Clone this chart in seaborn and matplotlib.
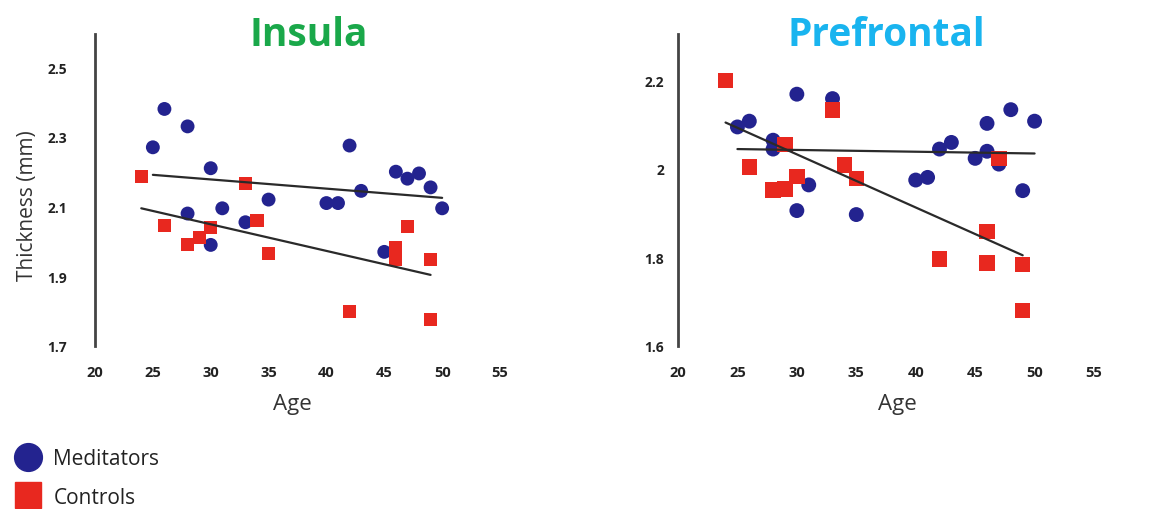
import numpy as np
import pandas as pd
import matplotlib
matplotlib.use("Agg")
import matplotlib.pyplot as plt
import seaborn as sns
from matplotlib.lines import Line2D

# ---------------- data ----------------
ins_med_age = [25, 26, 28, 30, 28, 30, 31, 33, 35, 40, 41, 42, 43, 45, 46, 47, 48, 49, 50]
ins_med_th = [2.27, 2.38, 2.33, 2.21, 2.08, 1.99, 2.095, 2.055, 2.12, 2.11, 2.11, 2.275,
              2.145, 1.97, 2.20, 2.18, 2.195, 2.155, 2.095]
ins_ctl_age = [24, 26, 28, 29, 30, 33, 34, 35, 42, 46, 46, 47, 49, 49]
ins_ctl_th = [2.187, 2.045, 1.99, 2.01, 2.04, 2.165, 2.06, 1.965, 1.80, 1.983, 1.947,
              2.042, 1.947, 1.775]

pre_med_age = [25, 26, 28, 28, 30, 30, 31, 33, 35, 40, 41, 42, 43, 45, 46, 46, 47, 48, 49, 50]
pre_med_th = [2.095, 2.108, 2.065, 2.045, 2.169, 1.906, 1.964, 2.159, 1.897, 1.975, 1.981,
              2.045, 2.06, 2.024, 2.103, 2.04, 2.011, 2.134, 1.951, 2.108]
pre_ctl_age = [24, 26, 28, 29, 29, 30, 33, 34, 35, 42, 46, 46, 47, 49, 49]
pre_ctl_th = [2.2, 2.004, 1.953, 1.955, 2.055, 1.983, 2.133, 2.009, 1.979, 1.796, 1.859,
              1.787, 2.024, 1.784, 1.68]

# fitted trend lines (end points)
ins_med_fit_age = [25, 50]
ins_med_fit_th = [2.191, 2.125]
ins_ctl_fit_age = [24, 49]
ins_ctl_fit_th = [2.095, 1.904]
pre_med_fit_age = [25, 50]
pre_med_fit_th = [2.045, 2.035]
pre_ctl_fit_age = [24, 49]
pre_ctl_fit_th = [2.105, 1.805]

x_ticks = [20, 25, 30, 35, 40, 45, 50, 55]
ins_y_ticks = [1.7, 1.9, 2.1, 2.3, 2.5]
ins_y_labels = ["1.7", "1.9", "2.1", "2.3", "2.5"]
pre_y_ticks = [1.6, 1.8, 2.0, 2.2]
pre_y_labels = ["1.6", "1.8", "2", "2.2"]

groups = ["Meditators", "Controls"]
titles = ["Insula", "Prefrontal"]

# ---------------- style ----------------
sns.set_theme(style="white")
plt.rcParams["font.family"] = ["Open Sans", "DejaVu Sans"]

MED_COLOR = "#23238f"
CTL_COLOR = "#e8281f"
LINE_COLOR = "#2a2a2a"
TEXT_COLOR = "#333333"

W, H = 1152, 510
fig = plt.figure(figsize=(W / 100, H / 100), dpi=100)

def px_axes(x0, x1, ytop, ybot):
    return fig.add_axes([x0 / W, 1 - ybot / H, (x1 - x0) / W, (ybot - ytop) / H])

ax1 = px_axes(95, 500, 35, 347)
ax2 = px_axes(678, 1094, 35, 347)

def panel(ax, med_age, med_th, ctl_age, ctl_th, med_fit, ctl_fit, s_med, s_ctl):
    dm = pd.DataFrame({"Age": med_age, "Thickness": med_th})
    dc = pd.DataFrame({"Age": ctl_age, "Thickness": ctl_th})
    sns.scatterplot(data=dm, x="Age", y="Thickness", marker="o", color=MED_COLOR,
                    s=s_med, edgecolor="none", ax=ax, zorder=3)
    sns.scatterplot(data=dc, x="Age", y="Thickness", marker="s", color=CTL_COLOR,
                    s=s_ctl, edgecolor="none", ax=ax, zorder=3)
    for fx, fy in (med_fit, ctl_fit):
        sns.lineplot(x=fx, y=fy, color=LINE_COLOR, linewidth=1.6, ax=ax, zorder=4)

panel(ax1, ins_med_age, ins_med_th, ins_ctl_age, ins_ctl_th,
      (ins_med_fit_age, ins_med_fit_th), (ins_ctl_fit_age, ins_ctl_fit_th), 100, 88)
panel(ax2, pre_med_age, pre_med_th, pre_ctl_age, pre_ctl_th,
      (pre_med_fit_age, pre_med_fit_th), (pre_ctl_fit_age, pre_ctl_fit_th), 115, 125)

ax1.set_ylim(1.7, 2.595)
ax2.set_ylim(1.605, 2.305)

for ax, yt, yl, ypad in ((ax1, ins_y_ticks, ins_y_labels, 20), (ax2, pre_y_ticks, pre_y_labels, 10)):
    ax.set_xlim(20, 55)
    ax.set_xticks(x_ticks)
    ax.set_xticklabels([str(v) for v in x_ticks], fontsize=10.5, fontweight="bold", color="#222222")
    ax.set_yticks(yt)
    ax.set_yticklabels(yl, fontsize=10, fontweight="bold", color="#222222")
    ax.tick_params(axis="y", length=0, pad=ypad)
    ax.tick_params(axis="x", length=2, width=1.5, color="#888888", pad=12, direction="out")
    sns.despine(ax=ax, bottom=True)
    ax.spines["left"].set_color("#444444")
    ax.spines["left"].set_linewidth(2)
    ax.set_facecolor("none")
    ax.set_xlabel("Age", fontsize=16, color=TEXT_COLOR)

ax1.xaxis.set_label_coords((292 - 95) / 405, -0.15)
ax2.xaxis.set_label_coords((897 - 678) / 416, -0.15)

ax1.set_ylabel("Thickness (mm)", fontsize=15, color=TEXT_COLOR)
ax1.yaxis.label.set_va("center")
ax1.yaxis.set_label_coords((28 - 95) / 405, (347 - 206) / 312)
ax2.set_ylabel("")

fig.text(309 / W, 1 - 36 / H, titles[0], fontsize=28, fontweight="bold",
         color="#1aa84a", ha="center", va="center")
fig.text(886 / W, 1 - 36 / H, titles[1], fontsize=28, fontweight="bold",
         color="#19b4ef", ha="center", va="center")

handles = [
    Line2D([], [], marker="o", markersize=20, color=MED_COLOR, linestyle=""),
    Line2D([], [], marker="s", markersize=19, color=CTL_COLOR, linestyle=""),
]
leg = fig.legend(handles, groups, loc="upper left", bbox_to_anchor=(18 / W, 1 - 449 / H),
                 frameon=False, fontsize=15, handlelength=1.0, handletextpad=0.7,
                 labelspacing=0.85, borderpad=0, borderaxespad=0)
for t in leg.get_texts():
    t.set_color("#222222")

fig.savefig("out.png", dpi=100, facecolor="white")
